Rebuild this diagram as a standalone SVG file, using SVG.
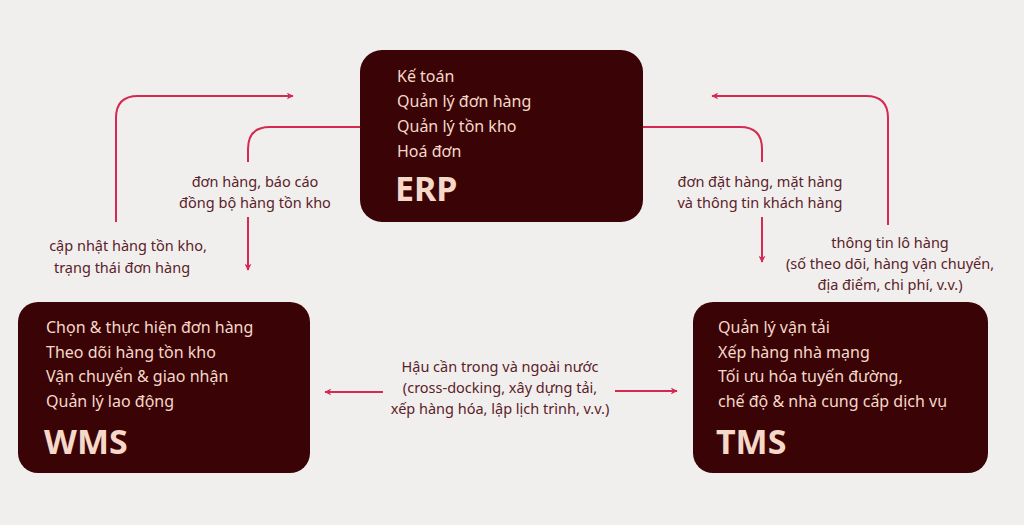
<svg xmlns="http://www.w3.org/2000/svg" width="1024" height="525" viewBox="0 0 1024 525">
<defs>
<style>
.box{fill:#3a0407}
.it{font-family:"Noto Sans",sans-serif;font-size:16px;fill:#f6d8c9}
.tt{font-family:"Noto Sans",sans-serif;font-size:34px;font-weight:bold;fill:#f6d8c9}
.lb{font-family:"Noto Sans",sans-serif;font-size:14.5px;fill:#5a2228;text-anchor:middle}
.ln{fill:none;stroke:#d42a52;stroke-width:2}
</style>
<marker id="a" viewBox="0 0 10 10" refX="9" refY="5" markerWidth="7" markerHeight="7" orient="auto-start-reverse" markerUnits="userSpaceOnUse"><path d="M0,0 L10,5 L0,10 L3,5 Z" fill="#d42a52"/></marker>
</defs>
<rect width="1024" height="525" fill="#f1efee"/>
<g id="erp"><rect class="box" x="360" y="50" width="283" height="172" rx="22"/>
<text class="it" x="397" y="82">Kế toán</text><text class="it" x="397" y="107">Quản lý đơn hàng</text><text class="it" x="397" y="132">Quản lý tồn kho</text><text class="it" x="397" y="157">Hoá đơn</text><text class="tt" x="395" y="201">ERP</text></g>
<g id="wms"><rect class="box" x="18" y="302" width="292" height="171" rx="20"/>
<text class="it" x="46" y="333">Chọn &amp; thực hiện đơn hàng</text><text class="it" x="46" y="358">Theo dõi hàng tồn kho</text><text class="it" x="46" y="382">Vận chuyển &amp; giao nhận</text><text class="it" x="46" y="407">Quản lý lao động</text><text class="tt" x="44" y="454">WMS</text></g>
<g id="tms"><rect class="box" x="693" y="302" width="295" height="171" rx="20"/>
<text class="it" x="718" y="333">Quản lý vận tải</text><text class="it" x="718" y="358">Xếp hàng nhà mạng</text><text class="it" x="718" y="382">Tối ưu hóa tuyến đường,</text><text class="it" x="718" y="407">chế độ &amp; nhà cung cấp dịch vụ</text><text class="tt" x="716" y="454">TMS</text></g>
<g id="connectors">
<path class="ln" d="M116,222 V118 Q116,96 138,96 H293" marker-end="url(#a)"/>
<path class="ln" d="M360,127 H270 Q248,127 248,149 V162"/>
<path class="ln" d="M248,217 V270" marker-end="url(#a)"/>
<path class="ln" d="M643,127 H740 Q762,127 762,149 V162"/>
<path class="ln" d="M762,217 V262" marker-end="url(#a)"/>
<path class="ln" d="M888,225 V118 Q888,96 866,96 H712" marker-end="url(#a)"/>
<path class="ln" d="M383,392 H325" marker-end="url(#a)"/>
<path class="ln" d="M615,391 H677" marker-end="url(#a)"/>
</g>
<g id="labels">
<text class="lb" x="255" y="187">đơn hàng, báo cáo</text><text class="lb" x="255" y="208">đồng bộ hàng tồn kho</text>
<text class="lb" x="128" y="251">cập nhật hàng tồn kho,</text><text class="lb" x="122" y="273">trạng thái đơn hàng</text>
<text class="lb" x="760" y="187">đơn đặt hàng, mặt hàng</text><text class="lb" x="760" y="208">và thông tin khách hàng</text>
<text class="lb" x="890" y="248">thông tin lô hàng</text><text class="lb" x="890" y="269">(số theo dõi, hàng vận chuyển,</text><text class="lb" x="890" y="290">địa điểm, chi phí, v.v.)</text>
<text class="lb" x="500" y="372">Hậu cần trong và ngoài nước</text><text class="lb" x="500" y="393">(cross-docking, xây dựng tải,</text><text class="lb" x="500" y="414">xếp hàng hóa, lập lịch trình, v.v.)</text>
</g>
</svg>
